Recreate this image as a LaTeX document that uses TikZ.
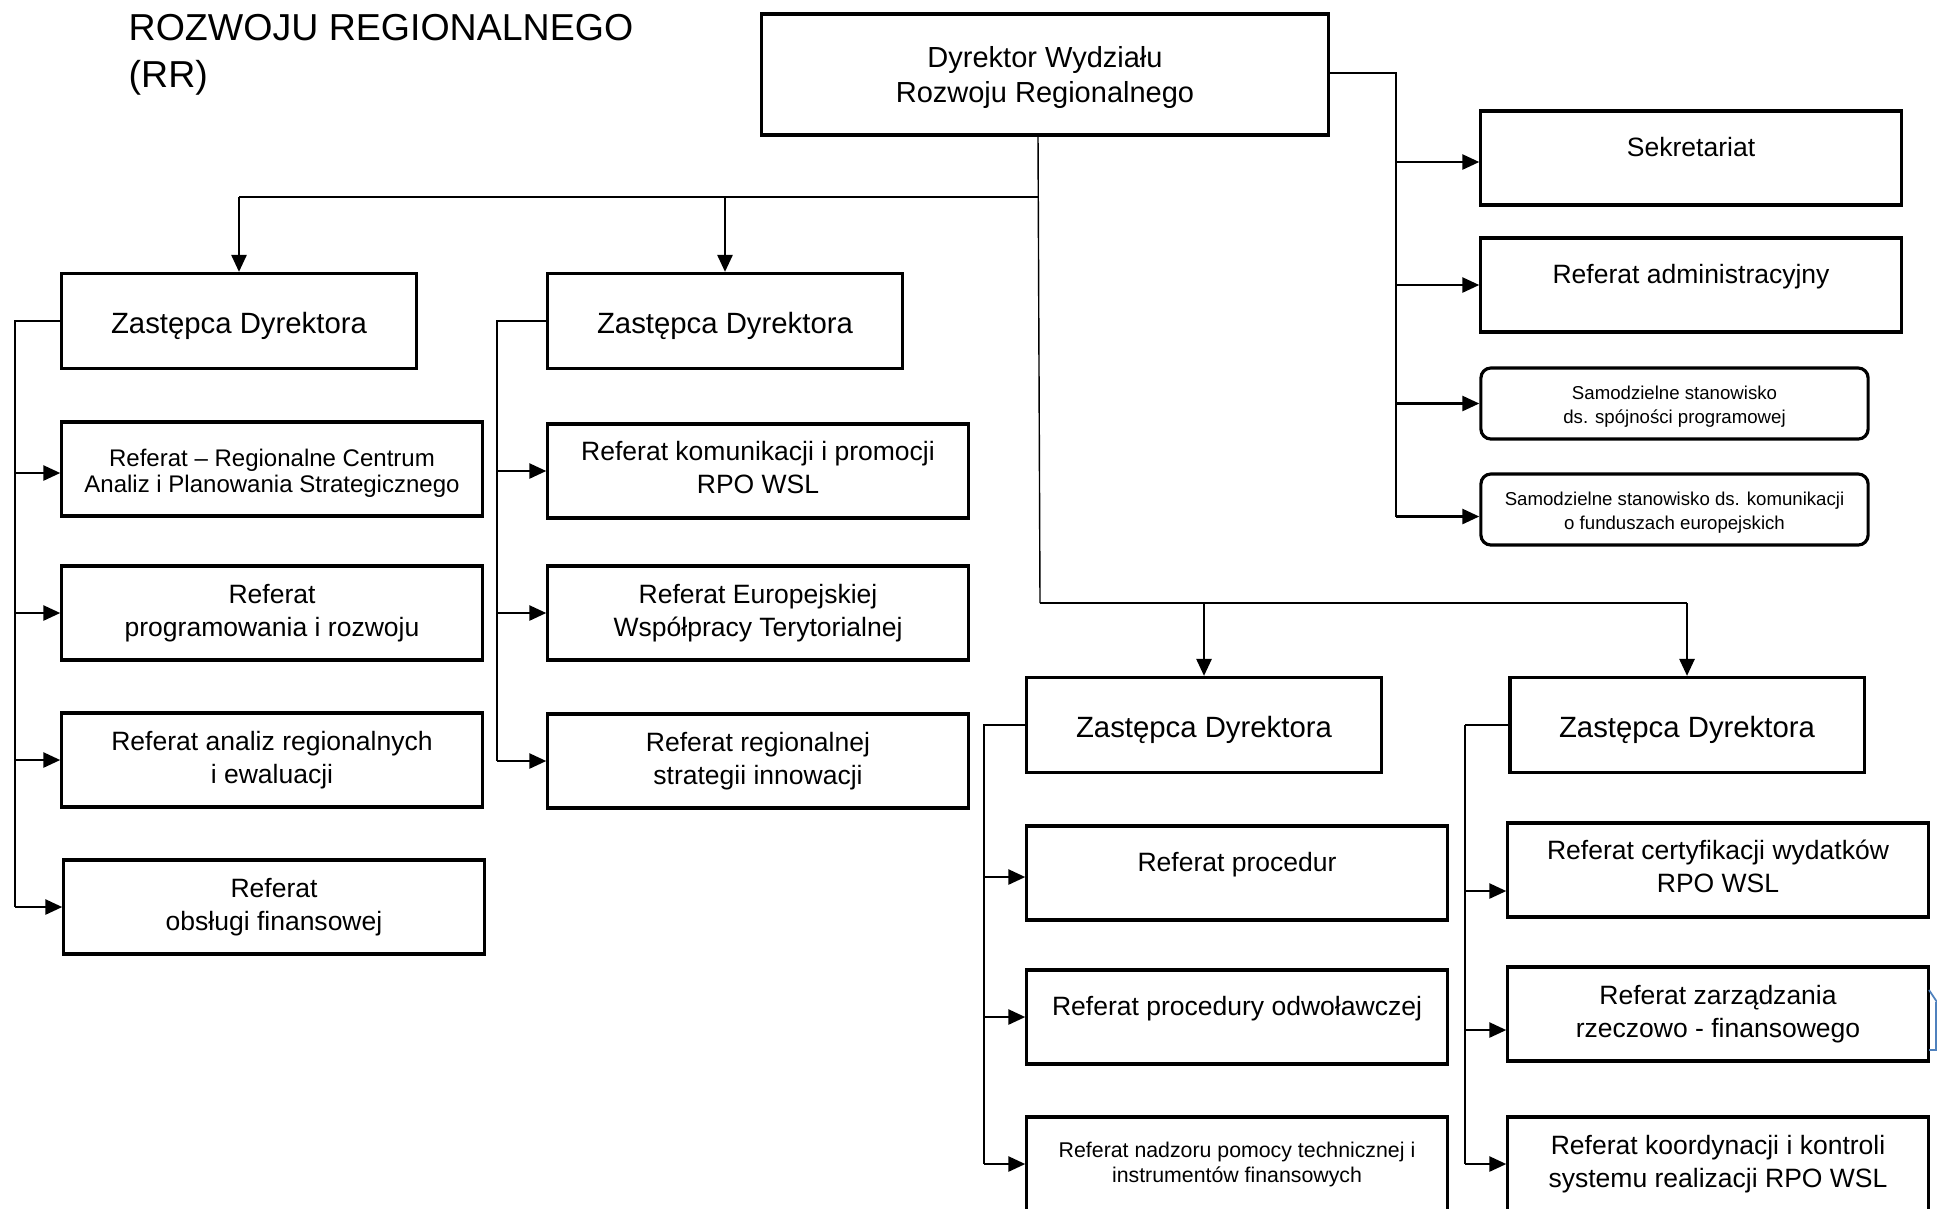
\documentclass[tikz,border=0pt]{standalone}
\usepackage{fontspec}
\setmainfont{Liberation Sans}
\usetikzlibrary{arrows.meta}
\newcommand{\fsz}[2]{\fontsize{#1pt}{#2pt}\selectfont}
\newcommand{\topst}[1]{\rule{0pt}{#1}}
\newcommand{\botst}{\rule[-0.07cm]{0pt}{0pt}}

\begin{document}
\begin{tikzpicture}[x=0.01cm, y=-0.01cm,
  box/.style={draw, line width=0.9pt, minimum width=4.2cm, minimum height=0.94cm, inner sep=0pt, align=center, font=\fsz{7.54}{9.5}},
  zd/.style={box, minimum width=3.54cm, minimum height=0.95cm, font=\fsz{8.34}{10}, text height=0.72em, text depth=0pt},
  rbox/.style={box, rounded corners=0.1cm, minimum width=3.87cm, minimum height=0.71cm, font=\fsz{5.3}{6.7}},
  up/.style={text height=0.72em, text depth=0.28cm},
  line/.style={line width=0.4pt},
  arr/.style={line width=0.75pt, -{Triangle[length=0.17cm,width=0.15cm]}}]
\useasboundingbox (0,0) rectangle (1937,1208);
\fill[white] (0,0) rectangle (1937,1208);
\clip (0,0) rectangle (1937,1208);
\node[anchor=west, align=left, inner sep=0pt, font=\fsz{10.67}{13.4}] (title) at (128,55) {ROZWOJU REGIONALNEGO\\(RR)};
\node[box, minimum width=5.66cm, minimum height=1.21cm, font=\fsz{8.25}{9.84}] (dir) at (1045,74.5) {\topst{0.27cm}Dyrektor Wydziału\\Rozwoju Regionalnego};
% right side
\node[box, up] (sek) at (1691,158) {Sekretariat};
\node[box, up] (adm) at (1691,285) {Referat administracyjny};
\node[rbox] (sam1) at (1674.5,403.5) {\topst{0.2cm}Samodzielne stanowisko\\ds. spójności programowej};
\node[rbox] (sam2) at (1674.5,509.5) {\topst{0.2cm}Samodzielne stanowisko ds. komunikacji\\o funduszach europejskich};
% deputies
\node[zd] (zd1) at (239,321) {Zastępca Dyrektora};
\node[zd] (zd2) at (725,321) {Zastępca Dyrektora};
\node[zd] (zd3) at (1204,725) {Zastępca Dyrektora};
\node[zd] (zd4) at (1687,725) {Zastępca Dyrektora};
% units
\node[box, font=\fsz{6.83}{7.4}] (r1) at (272,469) {\topst{0.25cm}Referat – Regionalne Centrum\\Analiz i Planowania Strategicznego};
\node[box] (r2) at (272,613) {Referat\\programowania i rozwoju};
\node[box] (r3) at (272,760) {Referat analiz regionalnych\\i ewaluacji};
\node[box] (r4) at (274,907) {Referat\\obsługi finansowej};
\node[box] (r5) at (758,471) {Referat komunikacji i promocji\\RPO WSL\botst};
\node[box] (r6) at (758,613) {Referat Europejskiej\\Współpracy Terytorialnej};
\node[box] (r7) at (758,761) {Referat regionalnej\\strategii innowacji};
\node[box, up] (r8) at (1237,873) {Referat procedur};
\node[box, up] (r9) at (1237,1017) {Referat procedury odwoławczej};
\node[box, font=\fsz{6.06}{7.1}] (r10) at (1237,1164) {Referat nadzoru pomocy technicznej i\\instrumentów finansowych};
\node[box] (r11) at (1718,870) {Referat certyfikacji wydatków\\RPO WSL\botst};
\node[box] (r12) at (1718,1014) {Referat zarządzania\\rzeczowo - finansowego};
\node[box] (r13) at (1718,1164) {Referat koordynacji i kontroli\\systemu realizacji RPO WSL};
% connectors
\coordinate (b1) at (1038,197);
\coordinate (b2) at (1040,603);
\coordinate (s0) at (1396,73);
\coordinate (f1) at (15,321);
\coordinate (f2) at (497,321);
\coordinate (f3) at (984,725);
\coordinate (f4) at (1465,723);
\draw[line] (dir.south -| b1) -- (b2);
\draw[line] (b1) -- (b1 -| zd1.north);
\draw[arr] (b1 -| zd1.north) -- (zd1.north);
\draw[arr] (b1 -| zd2.north) -- (zd2.north);
\draw[line] (b2) -- (b2 -| zd4.north);
\draw[arr] (b2 -| zd3.north) -- (zd3.north);
\draw[arr] (b2 -| zd4.north) -- (zd4.north);
\draw[line] (dir.east |- s0) -- (s0) -- ([yshift=-0.07cm]s0 |- sam2.west);
\draw[arr] ([yshift=-0.04cm]s0 |- sek.west) -- ([yshift=-0.04cm]sek.west);
\draw[arr] (s0 |- adm.west) -- (adm.west);
\draw[arr] (s0 |- sam1.west) -- (sam1.west);
\draw[arr] ([yshift=-0.07cm]s0 |- sam2.west) -- ([yshift=-0.07cm]sam2.west);
\draw[line] (zd1.west) -- (f1) -- (f1 |- r4.west);
\draw[arr] ([yshift=-0.04cm]f1 |- r1.west) -- ([yshift=-0.04cm]r1.west);
\foreach \n in {r2,r3,r4}
  \draw[arr] (f1 |- \n.west) -- (\n.west);
\draw[line] (zd2.west) -- (f2) -- (f2 |- r7.west);
\foreach \n in {r5,r6,r7}
  \draw[arr] (f2 |- \n.west) -- (\n.west);
\draw[line] (zd3.west) -- (f3) -- (f3 |- r10.west);
\draw[arr] ([yshift=-0.04cm]f3 |- r8.west) -- ([yshift=-0.04cm]r8.west);
\foreach \n in {r9,r10}
  \draw[arr] (f3 |- \n.west) -- (\n.west);
\draw[line] (zd4.west -| f4) -- (zd4.west);
\draw[line] (zd4.west -| f4) -- (f4 |- r13.west);
\draw[arr] ([yshift=-0.21cm]r11.west -| f4) -- ([yshift=-0.21cm]r11.west);
\draw[arr] ([yshift=-0.16cm]r12.west -| f4) -- ([yshift=-0.16cm]r12.west);
\draw[arr] (f4 |- r13.west) -- (r13.west);
% cut-off fragment at the right edge
\draw[line width=0.5pt, color={rgb,255:red,79;green,129;blue,189}] (1929,990) -- (1937,1002) (1936,1002) -- (1936,1050) -- (1929,1050);
\end{tikzpicture}
\end{document}
